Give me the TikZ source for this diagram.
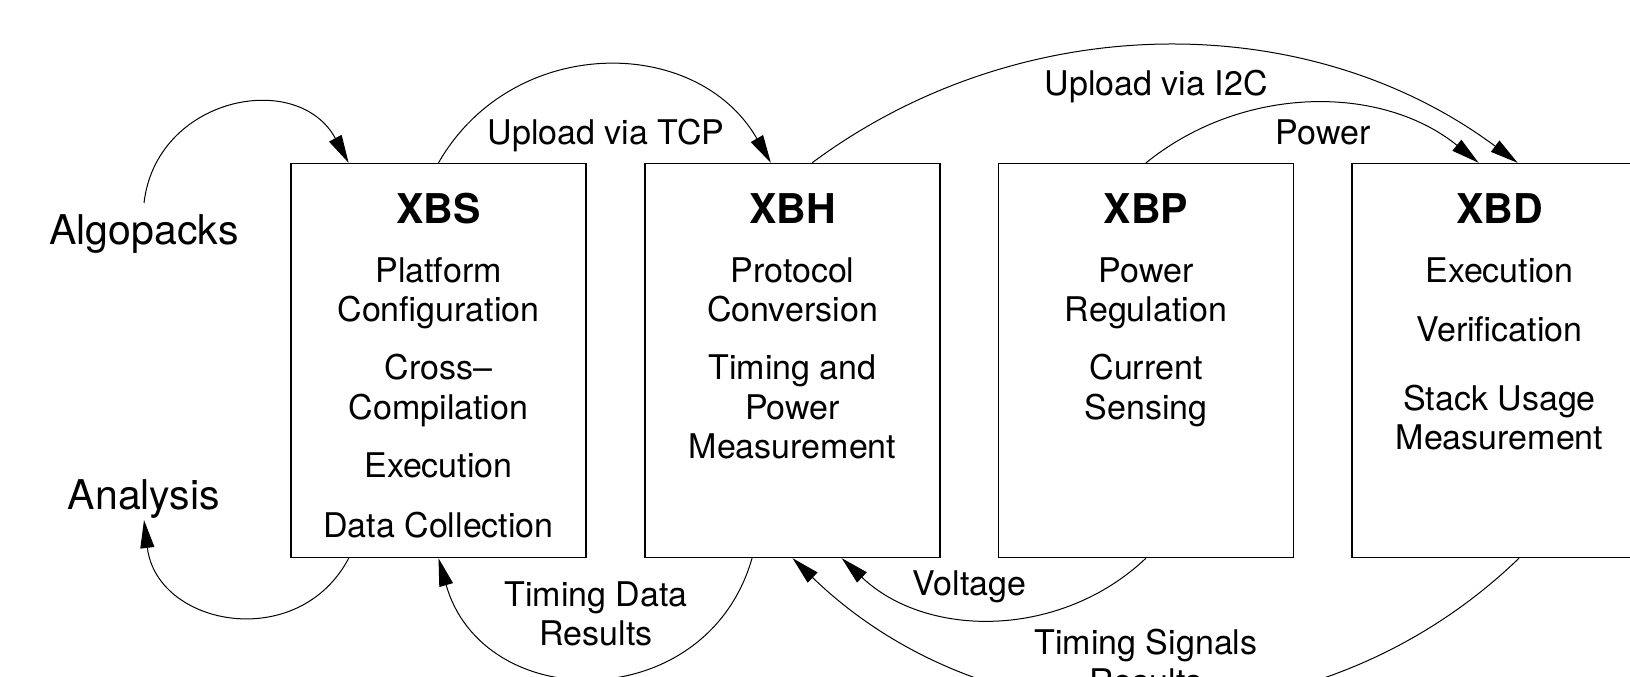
\documentclass[tikz,border=0pt]{standalone}
\usepackage{fontspec}
\setmainfont{TeX Gyre Heros}
\usetikzlibrary{arrows.meta,calc}
\begin{document}
\begin{tikzpicture}[x=1pt,y=1pt,
  box/.style={draw, line width=1.3pt, minimum width=295pt, minimum height=394pt, inner sep=0pt},
  txt/.style={anchor=base, inner sep=0pt, font=\fontsize{34pt}{39pt}\selectfont},
  ttl/.style={anchor=base, inner sep=0pt, font=\fontsize{41pt}{48pt}\selectfont\bfseries},
  side/.style={anchor=base, inner sep=0pt, font=\fontsize{41pt}{48pt}\selectfont},
  conn/.style={line width=1pt, -{Triangle[length=28pt,width=14pt]}}]
\useasboundingbox (0,0) rectangle (1630,677);
\clip (0,0) rectangle (1630,677);

% boxes
\node[box] (xbs) at (438.5,316.5) {};
\node[box] (xbh) at (792.5,316.5) {};
\node[box] (xbp) at (1146,316.5) {};
\node[box] (xbd) at (1499.5,316.5) {};

% XBS text
\node[ttl] (xbs-t) at (438.5,453) {XBS};
\node[txt] (xbs-1) at (438.5,394) {Platform};
\node[txt] (xbs-2) at (438.5,355) {Configuration};
\node[txt] (xbs-3) at (438.5,297) {Cross–};
\node[txt] (xbs-4) at (438.5,257) {Compilation};
\node[txt] (xbs-5) at (438.5,199) {Execution};
\node[txt] (xbs-6) at (438.5,139) {Data Collection};

% XBH text
\node[ttl] (xbh-t) at (792.5,453) {XBH};
\node[txt] (xbh-1) at (792.5,394) {Protocol};
\node[txt] (xbh-2) at (792.5,355) {Conversion};
\node[txt] (xbh-3) at (792.5,297) {Timing and};
\node[txt] (xbh-4) at (792.5,257) {Power};
\node[txt] (xbh-5) at (792.5,218) {Measurement};

% XBP text
\node[ttl] (xbp-t) at (1146,453) {XBP};
\node[txt] (xbp-1) at (1146,394) {Power};
\node[txt] (xbp-2) at (1146,355) {Regulation};
\node[txt] (xbp-3) at (1146,297) {Current};
\node[txt] (xbp-4) at (1146,257) {Sensing};

% XBD text
\node[ttl] (xbd-t) at (1499.5,453) {XBD};
\node[txt] (xbd-1) at (1499.5,394) {Execution};
\node[txt] (xbd-2) at (1499.5,335) {Verification};
\node[txt] (xbd-3) at (1499.5,266) {Stack Usage};
\node[txt] (xbd-4) at (1499.5,227) {Measurement};

% side labels
\node[side] (algo) at (144,432) {Algopacks};
\node[side] (ana) at (144,167) {Analysis};

% connector labels
\node[txt] (l-tcp) at (606,532) {Upload via TCP};
\node[txt] (l-i2c) at (1156,581) {Upload via I2C};
\node[txt] (l-pow) at (1323,532) {Power};
\node[txt] (l-td1) at (596,70) {Timing Data};
\node[txt] (l-td2) at (596,31) {Results};
\node[txt] (l-vol) at (969.5,81) {Voltage};
\node[txt] (l-ts1) at (1146,22) {Timing Signals};
\node[txt] (l-ts2) at (1146,-17) {Results};

% connector end points
\coordinate (algo-o) at ($(algo.base)+(0,42)$);
\coordinate (ana-i) at ($(ana.base)+(0,-10)$);
\coordinate (xbs-i1) at ($(xbs.north west)+(58.3,0)$);
\coordinate (xbs-o2) at ($(xbs.south west)+(58.4,0)$);
\coordinate (xbh-i1) at ($(xbh.north west)+(126.5,0)$);
\coordinate (xbh-o1) at ($(xbh.north west)+(167.7,0)$);
\coordinate (xbh-o2) at ($(xbh.south west)+(107.7,0)$);
\coordinate (xbh-i2) at ($(xbh.south west)+(197.3,0)$);
\coordinate (xbd-i1) at ($(xbd.north west)+(127.3,0)$);
\coordinate (xbd-i2) at ($(xbd.north west)+(166.3,0)$);
\coordinate (xbd-o) at ($(xbd.south west)+(167.7,0)$);

% connectors
\draw[conn] (algo-o) .. controls +(12.3,106.3) and +(-51,94) .. (xbs-i1);
\draw[conn] (xbs.north) .. controls +(73.7,128.7) and +(-73.9,128.6) .. (xbh-i1);
\draw[conn] (xbh-o1) .. controls +(209.5,155.6) and +(-209.5,155.6) .. (xbd-i2);
\draw[conn] (xbp.north) .. controls +(97,78.5) and +(-97,78.5) .. (xbd-i1);
\draw[conn] (xbs-o2) .. controls +(-50.1,-95.1) and +(12.9,-106.7) .. (ana-i);
\draw[conn] (xbh-o2) .. controls +(-45,-157.8) and +(45,-157.8) .. (xbs.south);
\draw[conn] (xbp.south) .. controls +(-85.2,-80.8) and +(85.2,-80.8) .. (xbh-i2);
\draw[conn] (xbd-o) .. controls +(-202.6,-195.9) and +(202.6,-195.9) .. (xbh.south);
\end{tikzpicture}
\end{document}
